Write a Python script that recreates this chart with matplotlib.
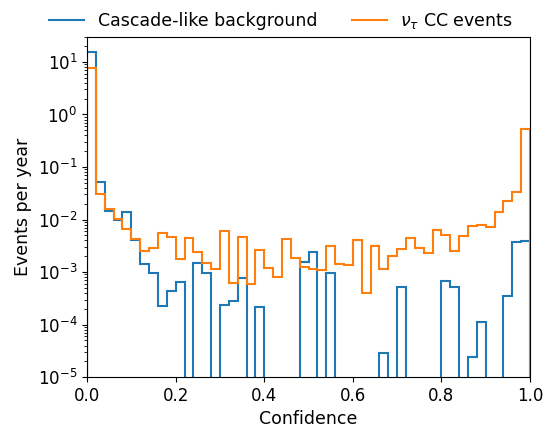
import numpy as np
import matplotlib
matplotlib.use("Agg")
import matplotlib.pyplot as plt
from matplotlib.lines import Line2D

# bin edges: 50 bins on [0, 1]
edges = np.linspace(0.0, 1.0, 51)

# events per year per bin (0 = empty bin)
background = [
    15.6, 0.051, 0.0144, 0.010, 0.0138, 0.0040, 0.00145, 0.00096, 0.000223, 0.000445,
    0.00065, 0.0, 0.0015, 0.00094, 0.0, 0.00024, 0.000286, 0.00078, 0.0, 0.000214,
    0.0, 0.0, 0.0, 0.0, 0.00154, 0.00238, 0.0, 0.00096, 0.0, 0.0,
    0.0, 0.0, 0.0, 2.9e-5, 0.0, 0.00052, 0.0, 0.0, 0.0, 0.0,
    0.00067, 0.00052, 0.0, 2.4e-5, 0.00011, 0.0, 0.0, 0.000346, 0.0038, 0.0039,
]
nutau_cc = [
    7.7, 0.030, 0.0162, 0.0104, 0.0067, 0.0042, 0.0025, 0.0029, 0.0055, 0.0046,
    0.00178, 0.0045, 0.0024, 0.0015, 0.00115, 0.0060, 0.00062, 0.0046, 0.00060, 0.0026,
    0.0012, 0.00081, 0.0043, 0.00186, 0.00124, 0.00117, 0.00108, 0.0031, 0.0014, 0.00137,
    0.0041, 0.00040, 0.0031, 0.00112, 0.0020, 0.00276, 0.0045, 0.0029, 0.0023, 0.0063,
    0.0050, 0.0025, 0.0048, 0.0075, 0.0080, 0.0072, 0.0138, 0.0223, 0.034, 0.52,
]
labels = ["Cascade-like background", r"$\nu_\tau$ CC events"]
colors = ["#1f77b4", "#ff7f0e"]

fig = plt.figure(figsize=(5.51, 4.34), dpi=100)
ax = fig.add_axes([0.158, 0.131, 0.804, 0.784])

centers = 0.5 * (edges[:-1] + edges[1:])
for vals, c in zip([background, nutau_cc], colors):
    ax.hist(centers, bins=edges, weights=vals, histtype="step",
            color=c, linewidth=1.5, log=True)

ax.set_xlim(0, 1)
ax.set_ylim(1e-5, 30)
ax.set_xlabel("Confidence", fontsize=12.5)
ax.set_ylabel("Events per year", fontsize=12.5)
ax.tick_params(labelsize=12)

handles = [Line2D([], [], color=c, linewidth=1.5) for c in colors]
fig.legend(handles, labels, loc="upper center", bbox_to_anchor=(0.51, 1.01),
           ncol=2, frameon=False, fontsize=12.5, columnspacing=2.0)

fig.savefig("out.png", dpi=100)
